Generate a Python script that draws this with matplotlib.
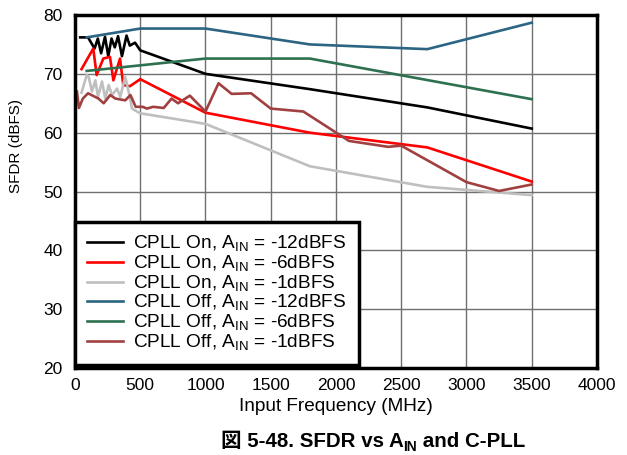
import matplotlib
matplotlib.use("Agg")
import matplotlib.pyplot as plt

plt.rcParams['font.family'] = ['Liberation Sans', 'Noto Sans CJK JP', 'DejaVu Sans']
plt.rcParams['mathtext.fontset'] = 'custom'
plt.rcParams['mathtext.rm'] = 'Liberation Sans'
plt.rcParams['mathtext.bf'] = 'Liberation Sans:bold'

# CPLL On
on12_f = [40, 100, 150, 175, 200, 230, 255, 280, 305, 330, 360, 395, 420, 460, 500, 1000, 1800, 2700, 3500]
on12_v = [76.2, 76.2, 74.3, 76.0, 73.5, 76.3, 73.0, 76.0, 74.5, 76.4, 73.0, 76.5, 74.8, 75.3, 74.0, 70.0, 67.4, 64.3, 60.7]

on6_f = [50, 140, 166, 217, 268, 294, 345, 370, 421, 500, 1000, 1800, 2700, 3500]
on6_v = [70.8, 74.3, 69.8, 72.6, 72.9, 68.9, 72.6, 68.1, 67.9, 69.1, 63.4, 60.0, 57.5, 51.7]

on1_f = [50, 90, 105, 130, 156, 176, 207, 232, 258, 284, 322, 347, 385, 411, 437, 475, 500, 1000, 1800, 2700, 3500]
on1_v = [66.8, 69.8, 69.5, 67.0, 68.9, 66.1, 68.7, 65.8, 68.1, 66.4, 67.5, 66.1, 69.5, 67.0, 64.1, 63.6, 63.3, 61.5, 54.3, 50.8, 49.4]

# CPLL Off
off12_f = [90, 500, 1000, 1800, 2700, 3500]
off12_v = [76.2, 77.7, 77.7, 75.0, 74.2, 78.7]

off6_f = [90, 1000, 1800, 3500]
off6_v = [70.5, 72.6, 72.6, 65.7]

off1_f = [15, 30, 60, 100, 180, 220, 270, 310, 385, 425, 465, 520, 550, 600, 680, 740, 790, 880,
          1000, 1100, 1200, 1350, 1500, 1750, 2100, 2400, 2500, 3000, 3250, 3500]
off1_v = [67.0, 64.2, 65.8, 66.7, 65.8, 65.0, 66.4, 65.8, 65.5, 66.4, 64.4, 64.4, 64.1, 64.4, 64.2, 65.8, 65.0, 66.3,
          63.6, 68.4, 66.6, 66.7, 64.1, 63.6, 58.6, 57.6, 57.8, 51.6, 50.1, 51.2]

labels = [r'CPLL On, A$_{\mathregular{IN}}$ = -12dBFS',
          r'CPLL On, A$_{\mathregular{IN}}$ = -6dBFS',
          r'CPLL On, A$_{\mathregular{IN}}$ = -1dBFS',
          r'CPLL Off, A$_{\mathregular{IN}}$ = -12dBFS',
          r'CPLL Off, A$_{\mathregular{IN}}$ = -6dBFS',
          r'CPLL Off, A$_{\mathregular{IN}}$ = -1dBFS']
colors = ['#000000', '#FF0000', '#BFBFBF', '#2B6583', '#2E7150', '#A14040']

fig = plt.figure(figsize=(6.27, 4.55), dpi=100)
ax = fig.add_axes([0.1196, 0.191, 0.8325, 0.776])

series = [(on12_f, on12_v), (on6_f, on6_v), (on1_f, on1_v),
          (off12_f, off12_v), (off6_f, off6_v), (off1_f, off1_v)]
for (f, v), c, lab in zip(series, colors, labels):
    ax.plot(f, v, color=c, lw=1.9, label=lab)

ax.set_xlim(0, 4000)
ax.set_ylim(20, 80)
ax.set_xticks(range(0, 4001, 500))
ax.set_yticks(range(20, 81, 10))
ax.grid(True, color='#707070', lw=1.0)
ax.set_axisbelow(True)
ax.tick_params(axis='x', length=0, labelsize=12.5, pad=7)
ax.tick_params(axis='y', length=0, labelsize=12.5, pad=9)
for s in ax.spines.values():
    s.set_linewidth(2.5)
ax.set_xlabel('Input Frequency (MHz)', fontsize=13.7, labelpad=4)
ax.set_ylabel('SFDR (dBFS)', fontsize=11)
ax.yaxis.set_label_coords(-0.1, 0.63)

leg = ax.legend(loc='lower left', bbox_to_anchor=(0, 0.008), borderaxespad=0, fontsize=13.7,
                fancybox=False, framealpha=1, edgecolor='black', handlelength=1.85,
                labelspacing=-0.03, borderpad=0.65, handletextpad=0.55)
leg.get_frame().set_linewidth(2.5)

# caption: 図 needs the CJK fallback, so build it from plain text pieces
renderer = fig.canvas.get_renderer()
W = fig.bbox.width
parts = [('図 5-48. SFDR vs A', 14.8, 0), ('IN', 10, -4), (' and C-PLL', 14.8, 0)]
texts = []
x = 0.0
for s, size, dy in parts:
    t = fig.text(x / W, 0.0, s, fontsize=size, fontweight='bold', va='baseline', ha='left')
    w = t.get_window_extent(renderer).width
    texts.append((t, x, dy))
    x += w
x0 = 373 - x / 2
base = 455 - 447
for t, xi, dy in texts:
    t.set_position(((x0 + xi) / W, (base + dy) / 455))

fig.savefig('out.png', dpi=100)
